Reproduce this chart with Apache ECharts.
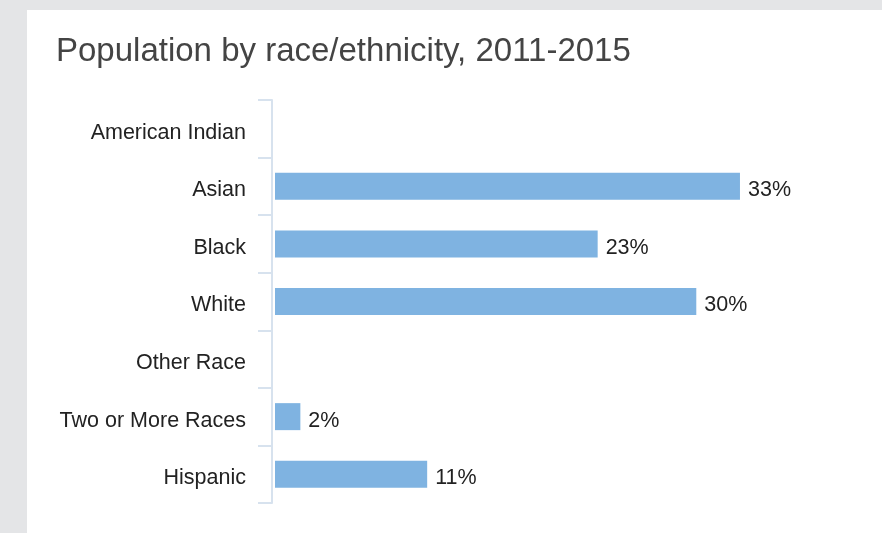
<!DOCTYPE html>
<html>
<head>
<meta charset="utf-8">
<script src="https://cdn.jsdelivr.net/npm/echarts@6/dist/echarts.min.js"></script>
<style>
  html, body { margin: 0; padding: 0; background: #e4e5e7; width: 882px; height: 533px; overflow: hidden; }
  #panel { position: absolute; left: 27px; top: 10px; width: 855px; height: 523px; background: #ffffff; }
  #main { position: absolute; left: 0; top: 0; width: 882px; height: 533px; }
</style>
</head>
<body>
<div id="panel"></div>
<div id="main"></div>
<script>
const titleText = 'Population by race/ethnicity, 2011-2015';
const categories = ['American Indian', 'Asian', 'Black', 'White', 'Other Race', 'Two or More Races', 'Hispanic'];
const values = [null, 33.0, 22.9, 29.9, null, 1.8, 10.8];

const fontFam = 'Liberation Sans, Arial, sans-serif';
const chart = echarts.init(document.getElementById('main'), null, { renderer: 'canvas' });
chart.setOption({
  animation: false,
  title: {
    text: titleText,
    left: 56,
    top: 35,
    padding: 0,
    textStyle: { fontFamily: fontFam, fontSize: 33, fontWeight: 'normal', color: '#444444' }
  },
  grid: { left: 272, top: 100, right: 43.4, bottom: 30, containLabel: false },
  xAxis: {
    type: 'value', min: -0.213, max: 40, show: false
  },
  yAxis: {
    type: 'category',
    data: categories,
    inverse: true,
    axisLine: { show: true, onZero: false, lineStyle: { color: '#d7e2ee', width: 2 } },
    axisTick: { show: true, length: 14, lineStyle: { color: '#d7e2ee', width: 2 } },
    axisLabel: {
      margin: 26,
      formatter: v => '{a|' + v + '}',
      rich: { a: { fontFamily: fontFam, fontSize: 21.5, color: '#222222', padding: [8, 0, 0, 0] } }
    },
    splitLine: { show: false }
  },
  series: [{
    type: 'bar',
    data: values,
    barWidth: 27,
    itemStyle: { color: '#7fb3e1' },
    label: {
      show: true,
      position: 'right',
      distance: 8,
      offset: [0, 4],
      fontFamily: fontFam,
      fontSize: 21.5,
      color: '#222222',
      formatter: p => Math.round(p.value) + '%'
    }
  }]
});
</script>
</body>
</html>
